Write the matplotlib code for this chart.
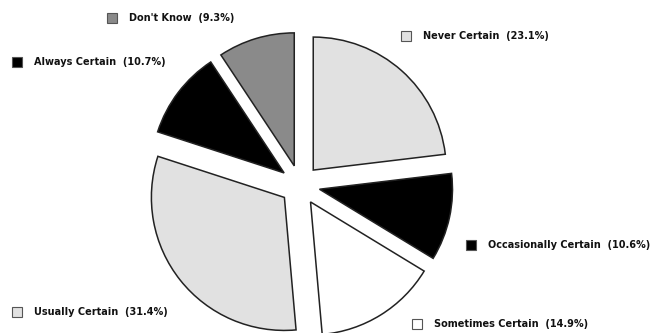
import matplotlib.pyplot as plt
import matplotlib.font_manager as fm

# answer categories and their shares (%)
labels = ['Never Certain', 'Occasionally Certain', 'Sometimes Certain',
          'Usually Certain', 'Always Certain', "Don't Know"]
shares = [23.1, 10.6, 14.9, 31.4, 10.7, 9.3]
colors = ['#e1e1e1', '#000000', '#ffffff', '#e1e1e1', '#000000', '#8a8a8a']

# where each label sits (pixels from the top-left corner: marker x, y)
label_pos = [(406, 36), (471, 245), (417, 324), (17, 312), (17, 62), (112, 18)]

names = {f.name for f in fm.fontManager.ttflist}
family = ['Liberation Sans Narrow'] if 'Liberation Sans Narrow' in names else ['DejaVu Sans']

W, H = 665, 333
fig = plt.figure(figsize=(W / 100, H / 100), dpi=100)
ax = fig.add_axes([0, 0, 1, 1])

R = 133.0          # pie radius in pixels
cx, cy = 300, 185  # pie centre in pixels (from top)

ax.pie(shares, colors=colors, startangle=90, counterclock=False,
       explode=[0.15] * len(shares), radius=1,
       wedgeprops=dict(edgecolor='#222222', linewidth=1.1))
ax.set_xlim(-cx / R, (W - cx) / R)
ax.set_ylim(-(H - cy) / R, cy / R)
ax.set_aspect('auto')
ax.axis('off')

for name, val, col, (px, py) in zip(labels, shares, colors, label_pos):
    fig.patches.append(plt.Rectangle(((px - 5) / W, 1 - (py + 5) / H), 10 / W, 10 / H,
                                     transform=fig.transFigure, facecolor=col,
                                     edgecolor='#555555', linewidth=0.8))
    fig.text((px + 17) / W, 1 - py / H, f'{name}  ({val}%)', fontsize=7,
             fontweight='bold', family=family, va='center', ha='left',
             color='#111111')

fig.savefig('out.png', dpi=100)
